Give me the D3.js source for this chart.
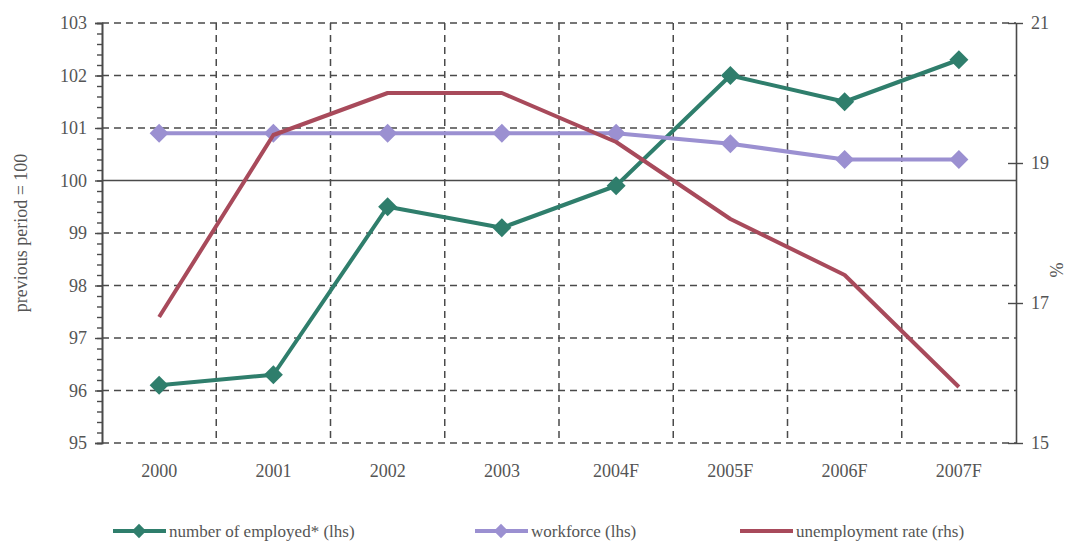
<!DOCTYPE html>
<html>
<head>
<meta charset="utf-8">
<script src="https://cdn.jsdelivr.net/npm/d3@7"></script>
<style>
  body { margin: 0; background: #fff; }
  svg text { font-family: "Liberation Serif", "DejaVu Serif", serif; fill: #555; }
</style>
</head>
<body>
<svg id="chart"></svg>
<script>
// dữ liệu
const years = ["2000", "2001", "2002", "2003", "2004F", "2005F", "2006F", "2007F"];
const employed = [96.1, 96.3, 99.5, 99.1, 99.9, 102.0, 101.5, 102.3];
const workforce = [100.9, 100.9, 100.9, 100.9, 100.9, 100.7, 100.4, 100.4];
const unemployment = [16.8, 19.4, 20.0, 20.0, 19.3, 18.2, 17.4, 15.8];
const leftTicks = [95, 96, 97, 98, 99, 100, 101, 102, 103];
const rightTicks = [15, 17, 19, 21];

const W = 1070, H = 544;
const margin = { top: 23, right: 54, bottom: 101, left: 102 };
const width = W - margin.left - margin.right;
const height = H - margin.top - margin.bottom;

const svg = d3.select("#chart").attr("width", W).attr("height", H);
const g = svg.append("g").attr("transform", `translate(${margin.left},${margin.top})`);

const x = d3.scaleBand().domain(years).range([0, width]);
const yL = d3.scaleLinear().domain([95, 103]).range([height, 0]);
const yR = d3.scaleLinear().domain([15, 21]).range([height, 0]);

const gridColor = "#4a4a4a";
const fontSize = "18px";

// lưới ngang (nét đứt), 100 là đường liền
g.selectAll(".hgrid")
  .data(leftTicks)
  .enter().append("line")
  .attr("x1", 0).attr("x2", width)
  .attr("y1", d => yL(d)).attr("y2", d => yL(d))
  .attr("stroke", gridColor)
  .attr("stroke-width", 1.5)
  .attr("stroke-dasharray", d => d === 100 ? null : "7,5");

// lưới dọc giữa các năm
g.selectAll(".vgrid")
  .data(years.slice(1))
  .enter().append("line")
  .attr("x1", d => x(d)).attr("x2", d => x(d))
  .attr("y1", 0).attr("y2", height)
  .attr("stroke", gridColor)
  .attr("stroke-width", 1.5)
  .attr("stroke-dasharray", "7,5");

// trục trái
const axL = g.append("g")
  .call(d3.axisLeft(yL).tickValues(leftTicks).tickSize(7).tickPadding(8).tickFormat(d3.format("d")));
axL.append("g")
  .call(d3.axisLeft(yL).tickValues(d3.range(95, 103.01, 0.2).map(v => +v.toFixed(1))).tickSize(5).tickFormat(""));
axL.selectAll("path.domain").attr("stroke", gridColor).attr("stroke-width", 1.6);
axL.selectAll("line").attr("stroke", gridColor).attr("stroke-width", 1.4);
axL.selectAll("text").style("font-size", fontSize).attr("fill", "#555");

// trục phải
const axR = g.append("g")
  .attr("transform", `translate(${width},0)`)
  .call(d3.axisRight(yR).tickValues(rightTicks).tickSizeInner(7).tickSizeOuter(0).tickPadding(8).tickFormat(d3.format("d")));
axR.selectAll(".tick line").attr("x1", -8);
axR.selectAll("path.domain").attr("stroke", gridColor).attr("stroke-width", 1.6);
axR.selectAll("line").attr("stroke", gridColor).attr("stroke-width", 1.4);
axR.selectAll("text").style("font-size", fontSize).attr("fill", "#555");

// nhãn năm
g.selectAll(".xlabel")
  .data(years)
  .enter().append("text")
  .attr("x", d => x(d) + x.bandwidth() / 2)
  .attr("y", height + 34)
  .attr("text-anchor", "middle")
  .style("font-size", fontSize)
  .text(d => d);

// tiêu đề trục
svg.append("text")
  .attr("transform", `translate(27,${margin.top + height / 2}) rotate(-90)`)
  .attr("text-anchor", "middle")
  .style("font-size", fontSize)
  .text("previous period = 100");

svg.append("text")
  .attr("transform", `translate(1050,270) rotate(90)`)
  .attr("text-anchor", "middle")
  .style("font-size", fontSize)
  .text("%");

const series = [
  { name: "number of employed* (lhs)", values: employed, scale: yL, color: "#2f7e6c", marker: true },
  { name: "workforce (lhs)", values: workforce, scale: yL, color: "#9b90d1", marker: true },
  { name: "unemployment rate (rhs)", values: unemployment, scale: yR, color: "#a84a5b", marker: false }
];

const cx = i => x(years[i]) + x.bandwidth() / 2;
const diamond = d3.symbol().type(d3.symbolDiamond2).size(230);

series.forEach(s => {
  const line = d3.line()
    .x((d, i) => cx(i))
    .y(d => s.scale(d));

  g.append("path")
    .datum(s.values)
    .attr("fill", "none")
    .attr("stroke", s.color)
    .attr("stroke-width", 4)
    .attr("stroke-linejoin", "round")
    .attr("d", line);

  if (s.marker) {
    g.selectAll(null)
      .data(s.values)
      .enter().append("path")
      .attr("d", diamond)
      .attr("transform", (d, i) => `translate(${cx(i)},${s.scale(d)})`)
      .attr("fill", s.color);
  }
});

// chú giải
const legendX = [113, 475, 740];
const legendY = 531;
const legend = svg.append("g");
series.forEach((s, i) => {
  const lg = legend.append("g").attr("transform", `translate(${legendX[i]},${legendY})`);
  lg.append("line")
    .attr("x1", 0).attr("x2", 53)
    .attr("y1", 0).attr("y2", 0)
    .attr("stroke", s.color).attr("stroke-width", 4);
  if (s.marker) {
    lg.append("path")
      .attr("d", d3.symbol().type(d3.symbolDiamond2).size(130))
      .attr("transform", "translate(26,0)")
      .attr("fill", s.color);
  }
  lg.append("text")
    .attr("x", 56)
    .attr("y", 6)
    .style("font-size", "17px")
    .text(s.name);
});
</script>
</body>
</html>
